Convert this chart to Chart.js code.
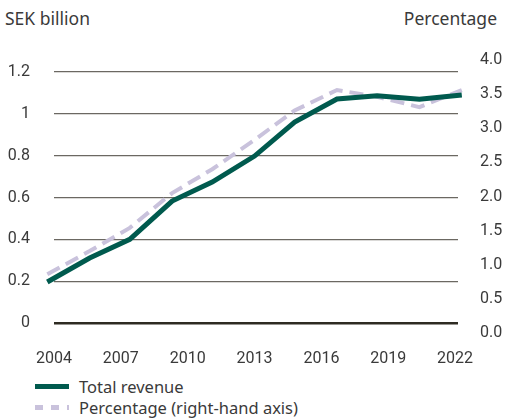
<!DOCTYPE html>
<html>
<head>
<meta charset="utf-8">
<script src="https://cdn.jsdelivr.net/npm/chart.js@4/dist/chart.umd.min.js"></script>
<style>
  html, body { margin: 0; padding: 0; background: #fff; }
  body { width: 505px; height: 419px; position: relative; overflow: hidden;
         font-family: "Noto Sans", Roboto, sans-serif; color: #3a3a3a; }
  #wrap { position: absolute; left: 0; top: 0; width: 505px; height: 370px; }
  .axisTitle { position: absolute; top: 7px; font-size: 17.5px; line-height: 22px; }
  #leftTitle { left: 5px; }
  #rightTitle { right: 8px; }
  #legend { position: absolute; left: 35px; top: 376px; font-size: 16.5px; }
  #legend .item { display: flex; align-items: center; height: 21px; }
  #legend .swatch { width: 34px; height: 5px; margin-right: 10px; }
</style>
</head>
<body>
<div id="leftTitle" class="axisTitle">SEK billion</div>
<div id="rightTitle" class="axisTitle">Percentage</div>
<div id="wrap"><canvas id="myChart"></canvas></div>
<div id="legend"></div>
<script>
// x positions (year) of the plotted points
const years = [2003.7, 2005.6, 2007.4, 2009.3, 2011.1, 2013.0, 2014.8, 2016.7, 2018.5, 2020.4, 2022.3];
// total revenue, SEK billion (left axis)
const revenue = [0.196, 0.311, 0.40, 0.583, 0.674, 0.798, 0.961, 1.071, 1.087, 1.07, 1.09];
// percentage (right-hand axis)
const percentage = [0.86, 1.2, 1.54, 2.05, 2.4, 2.83, 3.26, 3.56, 3.46, 3.31, 3.56];

const xTicks = [2004, 2007, 2010, 2013, 2016, 2019, 2022];
const leftTicks = [0, 0.2, 0.4, 0.6, 0.8, 1, 1.2];
const rightTicks = [0, 0.5, 1, 1.5, 2, 2.5, 3, 3.5, 4];

const GREEN = "#005a4e";
const LAVENDER = "#c9c2dc";
const TEXT = "#3a3a3a";

const ctx = document.getElementById("myChart").getContext("2d");

const data = {
  datasets: [
    {
      label: "Total revenue",
      data: years.map((x, i) => ({ x: x, y: revenue[i] })),
      borderColor: GREEN,
      backgroundColor: GREEN,
      borderWidth: 5,
      pointRadius: 0,
      tension: 0,
      clip: false,
      yAxisID: "y",
      order: 1,
    },
    {
      label: "Percentage (right-hand axis)",
      data: years.map((x, i) => ({ x: x, y: percentage[i] })),
      borderColor: LAVENDER,
      backgroundColor: LAVENDER,
      borderWidth: 4,
      borderDash: [14, 7],
      pointRadius: 0,
      tension: 0,
      clip: false,
      yAxisID: "y1",
      order: 2,
    },
  ],
};

const font = { family: "Roboto, 'Noto Sans', sans-serif", size: 16 };

const config = {
  type: "line",
  data: data,
  options: {
    responsive: true,
    maintainAspectRatio: false,
    animation: false,
    layout: { padding: { top: 60, left: 0, right: 0, bottom: 0 } },
    plugins: {
      legend: { display: false },
      tooltip: { enabled: false },
    },
    scales: {
      x: {
        type: "linear",
        min: 2004,
        max: 2022.13,
        afterBuildTicks: (scale) => {
          scale.ticks = xTicks.map((v) => ({ value: v }));
        },
        afterFit: (scale) => { scale.height = 37; },
        grid: { display: false, drawTicks: false },
        border: { display: false },
        ticks: {
          color: TEXT,
          font: font,
          padding: 16,
          maxRotation: 0,
          autoSkip: false,
          callback: (v) => String(v),
        },
      },
      y: {
        type: "linear",
        position: "left",
        min: -0.0478,
        max: 1.2574,
        afterBuildTicks: (scale) => {
          scale.ticks = leftTicks.map((v) => ({ value: v }));
        },
        afterFit: (scale) => { scale.width = 54; },
        grid: {
          drawTicks: false,
          color: (c) => (c.tick && c.tick.value === 0 ? "#2e2b22" : "#6b6862"),
          lineWidth: (c) => (c.tick && c.tick.value === 0 ? 2.5 : 1.3),
        },
        border: { display: false },
        ticks: {
          color: TEXT,
          font: font,
          padding: 24,
          callback: (v) => String(Math.round(v * 10) / 10),
        },
      },
      y1: {
        type: "linear",
        position: "right",
        min: 0,
        max: 4,
        afterBuildTicks: (scale) => {
          scale.ticks = rightTicks.map((v) => ({ value: v }));
        },
        afterFit: (scale) => { scale.width = 47; },
        grid: { drawOnChartArea: false, drawTicks: false },
        border: { display: false },
        ticks: {
          color: TEXT,
          font: font,
          padding: 22,
          callback: (v) => v.toFixed(1),
        },
      },
    },
  },
  plugins: [
    {
      id: "htmlLegend",
      afterUpdate(chart) {
        const box = document.getElementById("legend");
        box.innerHTML = "";
        chart.data.datasets.forEach((ds) => {
          const item = document.createElement("div");
          item.className = "item";
          const sw = document.createElement("span");
          sw.className = "swatch";
          if (ds.borderDash) {
            sw.style.background =
              "repeating-linear-gradient(to right, " + ds.borderColor + " 0 8px, transparent 8px 16px)";
          } else {
            sw.style.background = ds.borderColor;
          }
          const label = document.createElement("span");
          label.textContent = ds.label;
          item.appendChild(sw);
          item.appendChild(label);
          box.appendChild(item);
        });
      },
    },
  ],
};

const myChart = new Chart(ctx, config);
</script>
</body>
</html>
